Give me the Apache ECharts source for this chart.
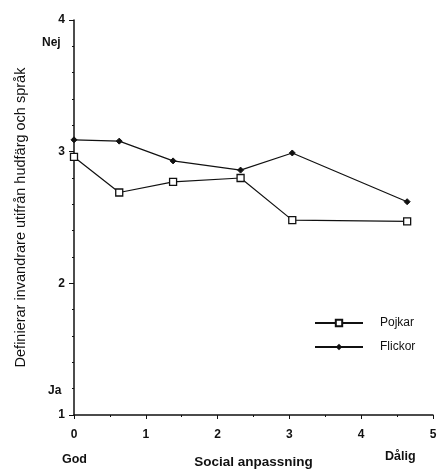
<!DOCTYPE html>
<html><head><meta charset="utf-8">
<script src="https://cdn.jsdelivr.net/npm/echarts@6/dist/echarts.min.js"></script>
<style>html,body{margin:0;padding:0;background:#fff}#c{width:437px;height:469px}</style>
</head><body><div id="c"></div>
<script>
const xVals = [0, 0.63, 1.38, 2.32, 3.04, 4.64];
const pojkar = [2.96, 2.69, 2.77, 2.80, 2.48, 2.47];
const flickor = [3.09, 3.08, 2.93, 2.86, 2.99, 2.62];
const yAxisName = 'Definierar invandrare utifrån hudfärg och språk';
const xAxisName = 'Social anpassning';

const chart = echarts.init(document.getElementById('c'));
const font = 'Liberation Sans, Arial, sans-serif';
const ink = '#111';
chart.setOption({
  animation: false,
  textStyle: {fontFamily: font, color: ink},
  grid: {left: 74, right: 4, top: 20, bottom: 54, containLabel: false, outerBoundsMode: 'none'},
  legend: {
    left: 309, top: 312, orient: 'vertical', itemWidth: 48, itemHeight: 8, itemGap: 12,
    textStyle: {fontSize: 12, color: ink, fontFamily: font, padding: [0, 0, 0, 12]},
    data: ['Pojkar', 'Flickor']
  },
  xAxis: {
    type: 'value', min: 0, max: 5, interval: 1,
    name: xAxisName, nameLocation: 'middle', nameGap: 40,
    nameTextStyle: {fontSize: 13.5, fontWeight: 'bold', color: ink},
    axisLine: {lineStyle: {color: ink, width: 1.5}},
    axisTick: {lineStyle: {color: ink}, length: 4},
    minorTick: {show: true, splitNumber: 2, length: 2, lineStyle: {color: ink}},
    axisLabel: {fontSize: 12, fontWeight: 'bold', color: ink, margin: 14},
    splitLine: {show: false}
  },
  yAxis: {
    type: 'value', min: 1, max: 4, interval: 1,
    name: yAxisName, nameLocation: 'middle', nameGap: 46, nameRotate: 90,
    nameTextStyle: {fontSize: 14.5, color: ink},
    axisLine: {lineStyle: {color: ink, width: 1.5}},
    axisTick: {lineStyle: {color: ink}, length: 5},
    minorTick: {show: true, splitNumber: 5, length: 2, lineStyle: {color: ink}},
    axisLabel: {fontSize: 12, fontWeight: 'bold', color: ink, margin: 9},
    splitLine: {show: false}
  },
  graphic: [
    {type: 'text', left: 42, top: 37, style: {text: 'Nej', font: 'bold 12px ' + font, fill: ink}},
    {type: 'text', left: 48, top: 385, style: {text: 'Ja', font: 'bold 12px ' + font, fill: ink}},
    {type: 'text', left: 62, top: 453, style: {text: 'God', font: 'bold 12.5px ' + font, fill: ink}},
    {type: 'text', left: 385, top: 450, style: {text: 'Dålig', font: 'bold 12.5px ' + font, fill: ink}}
  ],
  series: [
    {
      name: 'Pojkar', type: 'line', data: xVals.map((x, i) => [x, pojkar[i]]),
      symbol: 'rect', symbolSize: 7,
      itemStyle: {color: '#fff', borderColor: ink, borderWidth: 1.3},
      lineStyle: {color: ink, width: 1.2}
    },
    {
      name: 'Flickor', type: 'line', data: xVals.map((x, i) => [x, flickor[i]]),
      symbol: 'diamond', symbolSize: 6,
      itemStyle: {color: ink, borderColor: ink},
      lineStyle: {color: ink, width: 1.2}
    }
  ]
});
</script></body></html>
